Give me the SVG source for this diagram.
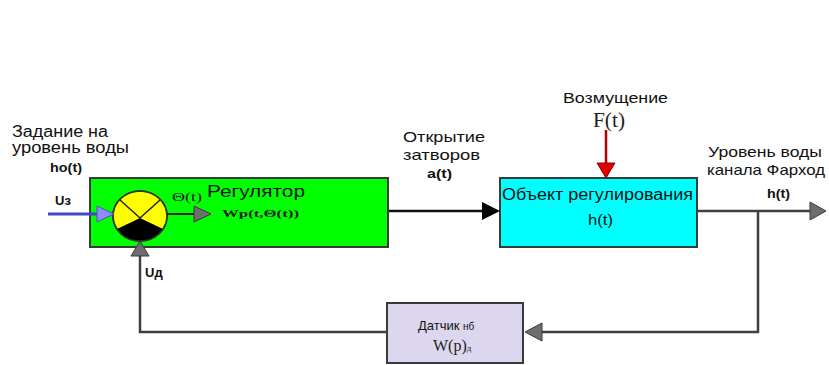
<svg xmlns="http://www.w3.org/2000/svg" width="829" height="365" viewBox="0 0 829 365">
  <style>
    .lbl { font-family: "Liberation Sans", Arial, sans-serif; fill: #111; }
    .b { font-weight: bold; }
    .ser { font-family: "Liberation Serif", "Times New Roman", serif; fill: #222; }
    .box { stroke: #3a3a3a; stroke-width: 2; }
    .wire { fill: none; stroke: #404040; stroke-width: 2.5; }
    .gray-head { fill: #6e6e6e; stroke: #3a3a3a; stroke-width: 1; }
  </style>
  <rect width="829" height="365" fill="#ffffff"/>

  <!-- regulator block -->
  <g id="regulator">
    <rect x="90" y="178" width="298" height="69" fill="#00ff00" class="box"/>
    <!-- summing junction -->
    <ellipse cx="140" cy="216" rx="27" ry="25" fill="#ffff00" stroke="#333" stroke-width="1.5"/>
    <path d="M140,218 L117,229 A27,25 0 0 0 163,229 Z" fill="#000"/>
    <line x1="120" y1="200" x2="140" y2="218" stroke="#222" stroke-width="1.5"/>
    <line x1="160" y1="200" x2="140" y2="218" stroke="#222" stroke-width="1.5"/>
    <ellipse cx="140" cy="216" rx="27" ry="25" fill="none" stroke="#333" stroke-width="1.5"/>
    <line x1="167" y1="214" x2="195" y2="214" stroke="#222" stroke-width="2"/>
    <polygon points="194,206 211,214 194,222" class="gray-head"/>
    <text x="172" y="201" class="ser" font-size="13" textLength="30" lengthAdjust="spacingAndGlyphs">Θ(t)</text>
    <text x="207" y="197" class="lbl" font-size="17" textLength="98" lengthAdjust="spacingAndGlyphs">Регулятор</text>
    <text x="222" y="217" class="ser b" font-size="11" textLength="77" lengthAdjust="spacingAndGlyphs">Wp(t,Θ(t))</text>
  </g>

  <!-- controlled object -->
  <g id="plant">
    <rect x="500" y="178" width="197" height="69" fill="#00ffff" class="box"/>
    <text x="502" y="200" class="lbl" font-size="16" textLength="191" lengthAdjust="spacingAndGlyphs">Объект регулирования</text>
    <text x="588" y="225" class="lbl" font-size="15" textLength="25" lengthAdjust="spacingAndGlyphs">h(t)</text>
  </g>

  <!-- level sensor -->
  <g id="sensor">
    <rect x="387" y="303" width="136" height="60" fill="#dcd6ee" class="box"/>
    <text x="418" y="330" class="lbl" font-size="13">Датчик <tspan font-size="10">нб</tspan></text>
    <text x="433" y="351" class="ser" font-size="16">W(p)<tspan font-size="9">д</tspan></text>
  </g>

  <!-- connectors -->
  <g id="connectors">
    <!-- setpoint input -->
    <line x1="48" y1="214" x2="98" y2="214" stroke="#4646c8" stroke-width="3"/>
    <polygon points="97,206 114,214 97,222" fill="#8c8cff" stroke="#5050c0" stroke-width="1"/>
    <!-- regulator output to plant -->
    <line x1="389" y1="211" x2="484" y2="211" stroke="#111" stroke-width="2.5"/>
    <polygon points="482,202 500,211 482,220" fill="#000"/>
    <!-- disturbance -->
    <line x1="606" y1="130" x2="606" y2="164" stroke="#b00000" stroke-width="2.5"/>
    <polygon points="597,163 615,163 606,178" fill="#e00000" stroke="#900000" stroke-width="1"/>
    <!-- plant output -->
    <line x1="698" y1="211" x2="811" y2="211" class="wire"/>
    <polygon points="810,202 826,211 810,220" class="gray-head"/>
    <!-- feedback path -->
    <polyline points="758,211 758,332 542,332" class="wire"/>
    <polygon points="542,323 525,332 542,341" class="gray-head"/>
    <polyline points="386,332 140,332 140,256" class="wire"/>
    <polygon points="131,256 140,241 149,256" class="gray-head"/>
  </g>

  <!-- signal labels -->
  <g id="labels">
    <text x="12" y="137" class="lbl" font-size="16" textLength="96" lengthAdjust="spacingAndGlyphs">Задание на</text>
    <text x="12" y="153" class="lbl" font-size="16" textLength="117" lengthAdjust="spacingAndGlyphs">уровень воды</text>
    <text x="50" y="172" class="lbl b" font-size="13" textLength="32" lengthAdjust="spacingAndGlyphs">ho(t)</text>
    <text x="55" y="205" class="lbl b" font-size="13">Uз</text>
    <text x="145" y="277" class="lbl b" font-size="13">Uд</text>
    <text x="403" y="142" class="lbl" font-size="15" textLength="82" lengthAdjust="spacingAndGlyphs">Открытие</text>
    <text x="403" y="160" class="lbl" font-size="15" textLength="77" lengthAdjust="spacingAndGlyphs">затворов</text>
    <text x="427" y="178" class="lbl b" font-size="13" textLength="25" lengthAdjust="spacingAndGlyphs">a(t)</text>
    <text x="563" y="103" class="lbl" font-size="15" textLength="105" lengthAdjust="spacingAndGlyphs">Возмущение</text>
    <text x="593" y="127" class="ser" font-size="20" textLength="32" lengthAdjust="spacingAndGlyphs">F(t)</text>
    <text x="708" y="157" class="lbl" font-size="15" textLength="114" lengthAdjust="spacingAndGlyphs">Уровень воды</text>
    <text x="707" y="175" class="lbl" font-size="15" textLength="118" lengthAdjust="spacingAndGlyphs">канала Фарход</text>
    <text x="767" y="198" class="lbl b" font-size="13" textLength="23" lengthAdjust="spacingAndGlyphs">h(t)</text>
  </g>
</svg>
